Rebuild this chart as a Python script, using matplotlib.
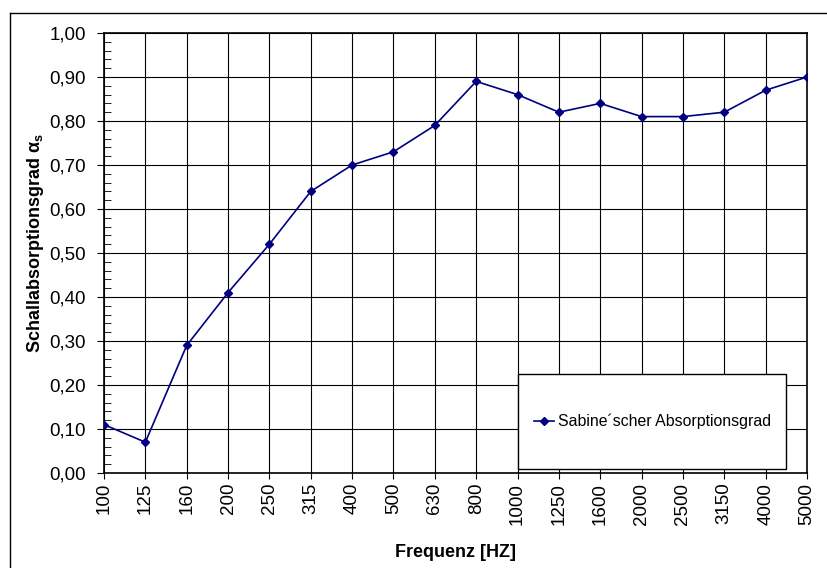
import matplotlib
matplotlib.use('Agg')
import matplotlib.pyplot as plt
from matplotlib.patches import Rectangle
from matplotlib.lines import Line2D
from matplotlib.ticker import FuncFormatter, MultipleLocator

plt.rcParams['font.family'] = ['Liberation Sans', 'DejaVu Sans']
plt.rcParams['mathtext.fontset'] = 'custom'
plt.rcParams['mathtext.rm'] = 'Liberation Sans:bold'
plt.rcParams['mathtext.it'] = 'Liberation Sans:bold'
plt.rcParams['mathtext.bf'] = 'Liberation Sans:bold'

frequenzen = ['100', '125', '160', '200', '250', '315', '400', '500', '630', '800',
              '1000', '1250', '1600', '2000', '2500', '3150', '4000', '5000']
alpha_s = [0.11, 0.07, 0.29, 0.41, 0.52, 0.64, 0.70, 0.73, 0.79, 0.89,
           0.86, 0.82, 0.84, 0.81, 0.81, 0.82, 0.87, 0.90]

fig = plt.figure(figsize=(8.27, 5.68), dpi=100)
ax = fig.add_axes([104 / 827, 1 - 473 / 568, 703 / 827, 440 / 568])

# äußerer Rahmen (oben und links)
fig.add_artist(Line2D([10 / 827, 10 / 827], [0, 1 - 13 / 568], transform=fig.transFigure,
                      color='black', lw=1))
fig.add_artist(Line2D([10 / 827, 1], [1 - 13 / 568, 1 - 13 / 568], transform=fig.transFigure,
                      color='black', lw=1))

x = list(range(len(frequenzen)))
ax.plot(x, alpha_s, color='#000080', lw=1.2, marker='D', markersize=4,
        label='Sabine´scher Absorptionsgrad', zorder=3)

ax.set_xlim(0, len(frequenzen) - 1)
ax.set_ylim(0, 1)
ax.set_xticks(x)
ax.set_xticklabels(frequenzen, rotation=90, fontsize=13.5)
ax.yaxis.set_major_locator(MultipleLocator(0.1))
ax.yaxis.set_minor_locator(MultipleLocator(0.02))
ax.yaxis.set_major_formatter(FuncFormatter(lambda v, p: f'{v:.2f}'.replace('.', ',')))
ax.tick_params(axis='y', which='major', direction='out', length=5, labelsize=13.5, pad=8)
ax.tick_params(axis='y', which='minor', direction='in', length=5)
ax.tick_params(axis='x', which='major', direction='out', length=4, pad=3)
ax.grid(True, which='major', color='black', lw=0.8)
for s in ax.spines.values():
    s.set_linewidth(1.2)

ax.set_xlabel('Frequenz [HZ]', fontsize=13, fontweight='bold', labelpad=14)
ax.set_ylabel(r'Schallabsorptionsgrad $\alpha_s$', fontsize=13, fontweight='bold')
ax.yaxis.set_label_coords(-0.082, 0.523)

# Legendenkasten
box = Rectangle((0.589, 0.009), 0.381, 0.216, transform=ax.transAxes,
                facecolor='white', edgecolor='black', lw=1, zorder=4)
ax.add_patch(box)
leg = ax.legend(loc='center left', bbox_to_anchor=(0.589, 0.009, 0.381, 0.216),
                frameon=False, fontsize=11.4, handlelength=1.3, handletextpad=0.25,
                borderaxespad=0.6)
leg.set_zorder(5)

fig.savefig('out.png', dpi=100)
